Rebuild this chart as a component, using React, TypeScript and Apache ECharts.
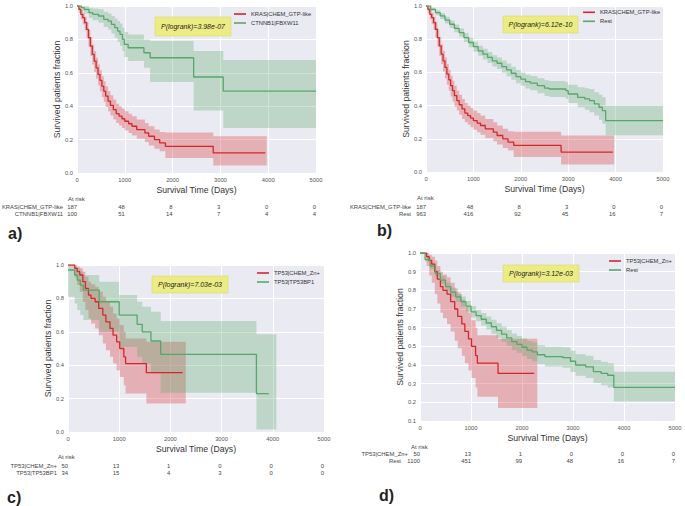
import React, { useEffect, useRef } from 'react';
import * as echarts from 'echarts';

const FONT = '"Liberation Sans", Arial, Helvetica, sans-serif';
const RED = '#d62728';
const GREEN = '#55a868';
const RED_BAND = 'rgba(214,39,40,0.3)';
const GREEN_BAND = 'rgba(85,168,104,0.3)';

// KRAS|CHEM_GTP-like (panels a, b)
const krasT = [0, 40, 80, 120, 160, 200, 240, 280, 320, 360, 400, 440, 480, 520, 560, 600, 650, 700, 760, 820, 880, 940, 1000, 1080, 1150, 1250, 1420, 1500, 1620, 1730, 1850, 2850];
const krasS = [1.0, 0.98, 0.95, 0.93, 0.9, 0.86, 0.81, 0.76, 0.71, 0.67, 0.63, 0.59, 0.555, 0.52, 0.49, 0.46, 0.43, 0.405, 0.38, 0.355, 0.34, 0.325, 0.31, 0.295, 0.28, 0.26, 0.24, 0.22, 0.2, 0.18, 0.16, 0.12];
const krasLo = [1.0, 0.96, 0.92, 0.89, 0.855, 0.81, 0.755, 0.7, 0.65, 0.605, 0.565, 0.525, 0.49, 0.455, 0.425, 0.395, 0.37, 0.345, 0.32, 0.3, 0.285, 0.27, 0.255, 0.24, 0.225, 0.205, 0.185, 0.165, 0.145, 0.13, 0.09, 0.045];
const krasHi = [1.0, 0.995, 0.975, 0.96, 0.935, 0.905, 0.86, 0.815, 0.77, 0.73, 0.69, 0.65, 0.615, 0.58, 0.55, 0.52, 0.49, 0.465, 0.44, 0.415, 0.4, 0.385, 0.37, 0.355, 0.34, 0.32, 0.3, 0.28, 0.26, 0.245, 0.243, 0.22];
const krasLineEnd = 3940;
const krasBandEnd = 3970;

// CTNNB1|FBXW11 (panel a)
const ctnT = [0, 90, 150, 250, 330, 450, 560, 650, 720, 790, 850, 900, 950, 990, 1070, 1400, 1530, 2440, 3060];
const ctnS = [1.0, 0.99, 0.98, 0.96, 0.95, 0.94, 0.92, 0.91, 0.89, 0.87, 0.85, 0.83, 0.8, 0.77, 0.75, 0.72, 0.69, 0.575, 0.49];
const ctnLo = [1.0, 0.97, 0.955, 0.93, 0.915, 0.9, 0.875, 0.86, 0.835, 0.81, 0.785, 0.76, 0.73, 0.695, 0.67, 0.63, 0.545, 0.375, 0.27];
const ctnHi = [1.0, 1.0, 1.0, 0.99, 0.985, 0.98, 0.965, 0.955, 0.94, 0.925, 0.91, 0.895, 0.87, 0.845, 0.83, 0.8, 0.79, 0.73, 0.677];
const ctnEnd = 5000;

// Rest (panel b)
const restBT = [0, 100, 200, 300, 400, 500, 600, 700, 800, 900, 1000, 1100, 1200, 1300, 1400, 1500, 1600, 1700, 1800, 1900, 2000, 2100, 2200, 2350, 2500, 2600, 2950, 3000, 3200, 3350, 3450, 3550, 3650, 3720, 3790];
const restBS = [1.0, 0.98, 0.96, 0.94, 0.915, 0.89, 0.865, 0.84, 0.81, 0.78, 0.755, 0.73, 0.71, 0.69, 0.67, 0.655, 0.635, 0.615, 0.595, 0.575, 0.56, 0.545, 0.535, 0.52, 0.505, 0.5, 0.49, 0.47, 0.45, 0.44, 0.43, 0.41, 0.39, 0.37, 0.31];
const restBLo = [1.0, 0.97, 0.945, 0.922, 0.895, 0.868, 0.842, 0.815, 0.783, 0.752, 0.725, 0.7, 0.678, 0.657, 0.636, 0.62, 0.598, 0.577, 0.556, 0.535, 0.52, 0.503, 0.492, 0.475, 0.458, 0.452, 0.44, 0.415, 0.39, 0.375, 0.36, 0.34, 0.315, 0.29, 0.222];
const restBHi = [1.0, 0.99, 0.975, 0.958, 0.935, 0.912, 0.888, 0.865, 0.837, 0.808, 0.785, 0.76, 0.742, 0.723, 0.704, 0.69, 0.672, 0.653, 0.634, 0.615, 0.6, 0.587, 0.578, 0.565, 0.552, 0.548, 0.54, 0.525, 0.51, 0.505, 0.5, 0.48, 0.465, 0.45, 0.4];
const restBEnd = 5000;

// TP53|CHEM_Zn+ (panels c, d)
const znT = [0, 130, 180, 230, 290, 340, 400, 450, 530, 600, 680, 740, 820, 880, 950, 1010, 1090, 1125, 1530];
const znS = [1.0, 0.98, 0.96, 0.94, 0.9, 0.86, 0.82, 0.8, 0.78, 0.74, 0.7, 0.66, 0.62, 0.58, 0.54, 0.5, 0.45, 0.41, 0.355];
const znLo = [1.0, 0.93, 0.88, 0.84, 0.78, 0.73, 0.68, 0.65, 0.62, 0.58, 0.53, 0.49, 0.45, 0.41, 0.37, 0.33, 0.28, 0.23, 0.17];
const znHi = [1.0, 1.0, 0.99, 0.98, 0.96, 0.93, 0.9, 0.885, 0.87, 0.84, 0.81, 0.78, 0.75, 0.71, 0.68, 0.64, 0.6, 0.56, 0.54];
const znLineEnd = 2240;
const znBandEnd = 2300;

// TP53|TP53BP1 (panel c)
const bp1T = [0, 130, 180, 240, 300, 610, 1000, 1350, 1450, 1620, 1810, 3680];
const bp1S = [0.97, 0.94, 0.91, 0.88, 0.85, 0.78, 0.7, 0.645, 0.6, 0.545, 0.465, 0.23];
const bp1Lo = [0.81, 0.77, 0.73, 0.7, 0.67, 0.6, 0.51, 0.45, 0.41, 0.35, 0.235, 0.015];
const bp1Hi = [1.0, 0.99, 0.98, 0.96, 0.94, 0.9, 0.82, 0.78, 0.75, 0.72, 0.665, 0.585];
const bp1LineEnd = 3920;
const bp1BandEnd = 4070;

// Rest (panel d)
const restDT = [0, 100, 200, 300, 400, 500, 600, 700, 800, 900, 1000, 1100, 1200, 1300, 1400, 1500, 1600, 1700, 1800, 1900, 2000, 2100, 2200, 2300, 2450, 2800, 2950, 3050, 3250, 3400, 3550, 3680, 3800];
const restDS = [1.0, 0.965, 0.93, 0.89, 0.855, 0.82, 0.79, 0.765, 0.74, 0.715, 0.685, 0.665, 0.645, 0.625, 0.605, 0.585, 0.565, 0.545, 0.525, 0.51, 0.495, 0.48, 0.47, 0.455, 0.445, 0.44, 0.42, 0.4, 0.39, 0.365, 0.355, 0.345, 0.28];
const restDLo = [1.0, 0.955, 0.915, 0.873, 0.835, 0.798, 0.765, 0.739, 0.713, 0.687, 0.655, 0.634, 0.612, 0.59, 0.568, 0.546, 0.524, 0.503, 0.481, 0.465, 0.448, 0.432, 0.42, 0.404, 0.392, 0.385, 0.363, 0.342, 0.33, 0.303, 0.292, 0.28, 0.204];
const restDHi = [1.0, 0.975, 0.945, 0.907, 0.875, 0.842, 0.815, 0.791, 0.767, 0.743, 0.715, 0.696, 0.678, 0.66, 0.642, 0.624, 0.606, 0.587, 0.569, 0.555, 0.542, 0.528, 0.52, 0.506, 0.498, 0.495, 0.477, 0.458, 0.45, 0.427, 0.418, 0.41, 0.364];
const restDEnd = 5000;

// At-risk tables
const riskTicks = [0, 1000, 2000, 3000, 4000, 5000];
const riskA1 = [187, 48, 8, 3, 0, 0];
const riskA2 = [100, 51, 14, 7, 4, 4];
const riskB1 = [187, 48, 8, 3, 0, 0];
const riskB2 = [963, 416, 92, 45, 16, 7];
const riskC1 = [50, 13, 1, 0, 0, 0];
const riskC2 = [34, 15, 4, 3, 0, 0];
const riskD1 = [50, 13, 1, 0, 0, 0];
const riskD2 = [1100, 451, 99, 48, 16, 7];

const pValues = ['P(logrank)=3.98e-07', 'P(logrank)=6.12e-10', 'P(logrank)=7.03e-03', 'P(logrank)=3.12e-03'];
const panelLabels = ['a)', 'b)', 'c)', 'd)'];
const groupNames = [
  ['KRAS|CHEM_GTP-like', 'CTNNB1|FBXW11'],
  ['KRAS|CHEM_GTP-like', 'Rest'],
  ['TP53|CHEM_Zn+', 'TP53|TP53BP1'],
  ['TP53|CHEM_Zn+', 'Rest'],
];
const riskRows = [[riskA1, riskA2], [riskB1, riskB2], [riskC1, riskC2], [riskD1, riskD2]];

// Layout (pixels)
const grids = [
  { left: 77, top: 6, width: 239, height: 167 },
  { left: 426, top: 6, width: 237, height: 166 },
  { left: 68, top: 265, width: 256, height: 167 },
  { left: 420, top: 253, width: 255, height: 168 },
];
const yMins = [0, 0, 0, 0.1];
const yIntervals = [0.2, 0.2, 0.2, 0.1];
const riskOffsets = [30.5, 31.5, 30.5, 29.5];
const legendPos = [
  { left: 234, top: 9.5 },
  { left: 583, top: 7.8 },
  { left: 257, top: 268.5 },
  { left: 609, top: 256.5 },
];
const pBoxes = [
  { x: 155, y: 17, w: 76, h: 19 },
  { x: 503, y: 16, w: 75, h: 17 },
  { x: 152, y: 276, w: 76, h: 17 },
  { x: 503, y: 265, w: 76, h: 17 },
];
const labelPos = [
  { x: 8, y: 233 },
  { x: 377, y: 230 },
  { x: 7, y: 497 },
  { x: 379, y: 495 },
];
const riskLabelPos = [
  { atX: 68, atY: 199, row1X: 63, row2X: 63, r1: 207, r2: 214 },
  { atX: 417, atY: 198, row1X: 411, row2X: 411, r1: 207, r2: 214 },
  { atX: 58, atY: 457, row1X: 57, row2X: 57, r1: 466, r2: 473 },
  { atX: 411, atY: 447, row1X: 408, row2X: 401, r1: 454, r2: 461 },
];

function lineSeries(gi: number, name: string, t: number[], s: number[], end: number, color: string) {
  const data = t.map((x, i) => [x, s[i]]);
  data.push([end, s[s.length - 1]]);
  return {
    type: 'line',
    name,
    xAxisIndex: gi,
    yAxisIndex: gi,
    step: 'end',
    showSymbol: false,
    symbol: 'none',
    data,
    z: 3,
    lineStyle: { color, width: 1.3 },
    itemStyle: { color },
    silent: true,
  };
}

function bandSeries(gi: number, t: number[], lo: number[], hi: number[], end: number, fill: string) {
  return {
    type: 'custom',
    xAxisIndex: gi,
    yAxisIndex: gi,
    silent: true,
    z: 2,
    data: t.map((x, i) => [x, lo[i], hi[i]]),
    encode: { x: 0, y: [1, 2] },
    renderItem: (params: any, api: any) => {
      if (params.dataIndex !== 0) return null;
      const pts: number[][] = [];
      const n = t.length;
      for (let i = 0; i < n; i++) {
        const x1 = i + 1 < n ? t[i + 1] : end;
        pts.push(api.coord([t[i], hi[i]]), api.coord([x1, hi[i]]));
      }
      for (let i = n - 1; i >= 0; i--) {
        const x1 = i + 1 < n ? t[i + 1] : end;
        pts.push(api.coord([x1, lo[i]]), api.coord([t[i], lo[i]]));
      }
      return { type: 'polygon', shape: { points: pts }, style: { fill } };
    },
  };
}

function buildOption() {
  const grid = grids.map((g) => ({ ...g, show: true, backgroundColor: '#EAEAF2', borderWidth: 0, containLabel: false }));
  const xAxis: any[] = [];
  const yAxis: any[] = [];
  grids.forEach((_, gi) => {
    xAxis.push({
      gridIndex: gi,
      type: 'value',
      min: 0,
      max: 5000,
      interval: 1000,
      name: 'Survival Time (Days)',
      nameLocation: 'middle',
      nameGap: 12,
      nameTextStyle: { fontSize: 8.7, color: '#333', fontFamily: FONT },
      axisLine: { show: false },
      axisTick: { show: false },
      axisLabel: {
        fontSize: 5.8,
        color: '#555',
        margin: 4,
        fontFamily: FONT,
        showMinLabel: true,
        showMaxLabel: true,
        formatter: (v: number) => String(Math.round(v)),
      },
      splitLine: { show: true, lineStyle: { color: '#ffffff', width: 1 } },
    });
    yAxis.push({
      gridIndex: gi,
      type: 'value',
      min: yMins[gi],
      max: 1.0,
      interval: yIntervals[gi],
      name: 'Survived patients fraction',
      nameLocation: 'middle',
      nameGap: 15,
      nameTextStyle: { fontSize: 8.7, color: '#333', fontFamily: FONT },
      axisLine: { show: false },
      axisTick: { show: false },
      axisLabel: { fontSize: 5.8, color: '#555', margin: 4, fontFamily: FONT, formatter: (v: number) => v.toFixed(1) },
      splitLine: { show: true, lineStyle: { color: '#ffffff', width: 1 } },
    });
  });
  grids.forEach((_, gi) => {
    const rows = riskRows[gi];
    xAxis.push({
      gridIndex: gi,
      type: 'value',
      position: 'bottom',
      offset: riskOffsets[gi],
      min: 0,
      max: 5000,
      interval: 1000,
      axisLine: { show: false },
      axisTick: { show: false },
      splitLine: { show: false },
      axisLabel: {
        show: true,
        margin: 0,
        align: 'right',
        fontSize: 5.9,
        lineHeight: 7,
        color: '#444',
        fontFamily: FONT,
        showMinLabel: true,
        showMaxLabel: true,
        formatter: (v: number) => {
          const k = riskTicks.indexOf(Math.round(v));
          return k < 0 ? '' : `${rows[0][k]}\n${rows[1][k]}`;
        },
      },
    });
  });

  const series: any[] = [
    bandSeries(0, krasT, krasLo, krasHi, krasBandEnd, RED_BAND),
    bandSeries(0, ctnT, ctnLo, ctnHi, ctnEnd, GREEN_BAND),
    lineSeries(0, groupNames[0][0], krasT, krasS, krasLineEnd, RED),
    lineSeries(0, groupNames[0][1], ctnT, ctnS, ctnEnd, GREEN),

    bandSeries(1, krasT, krasLo, krasHi, krasBandEnd, RED_BAND),
    bandSeries(1, restBT, restBLo, restBHi, restBEnd, GREEN_BAND),
    lineSeries(1, groupNames[1][0], krasT, krasS, krasLineEnd, RED),
    lineSeries(1, groupNames[1][1], restBT, restBS, restBEnd, GREEN),

    bandSeries(2, znT, znLo, znHi, znBandEnd, RED_BAND),
    bandSeries(2, bp1T, bp1Lo, bp1Hi, bp1BandEnd, GREEN_BAND),
    lineSeries(2, groupNames[2][0], znT, znS, znLineEnd, RED),
    lineSeries(2, groupNames[2][1], bp1T, bp1S, bp1LineEnd, GREEN),

    bandSeries(3, znT, znLo, znHi, znBandEnd, RED_BAND),
    bandSeries(3, restDT, restDLo, restDHi, restDEnd, GREEN_BAND),
    lineSeries(3, groupNames[3][0], znT, znS, znLineEnd, RED),
    lineSeries(3, groupNames[3][1], restDT, restDS, restDEnd, GREEN),
  ];

  const legend = grids.map((_, gi) => ({
    data: groupNames[gi],
    left: legendPos[gi].left,
    top: legendPos[gi].top,
    orient: 'vertical',
    icon: 'rect',
    itemWidth: 12,
    itemHeight: 1.6,
    itemGap: 0,
    padding: 0,
    selectedMode: false,
    textStyle: { fontSize: 5.8, color: '#333', lineHeight: 9, fontFamily: FONT },
  }));

  const graphic: any[] = [];
  grids.forEach((_, gi) => {
    const b = pBoxes[gi];
    graphic.push({
      type: 'rect',
      shape: { x: b.x, y: b.y, width: b.w, height: b.h },
      style: { fill: '#ecec84', stroke: '#dada6e', lineWidth: 0.6 },
      z: 10,
    });
    graphic.push({
      type: 'text',
      x: b.x + b.w / 2,
      y: b.y + b.h / 2,
      style: { text: pValues[gi], font: `italic 7px ${FONT}`, fill: '#222', textAlign: 'center', textVerticalAlign: 'middle' },
      z: 11,
    });
    const lp = labelPos[gi];
    graphic.push({
      type: 'text',
      x: lp.x,
      y: lp.y,
      style: { text: panelLabels[gi], font: `bold 16px ${FONT}`, fill: '#222', textAlign: 'left', textVerticalAlign: 'middle' },
    });
    const r = riskLabelPos[gi];
    graphic.push({
      type: 'text',
      x: r.atX,
      y: r.atY,
      style: { text: 'At risk', font: `6px ${FONT}`, fill: '#444', textAlign: 'left', textVerticalAlign: 'middle' },
    });
    graphic.push({
      type: 'text',
      x: r.row1X,
      y: r.r1,
      style: { text: groupNames[gi][0], font: `5.9px ${FONT}`, fill: '#444', textAlign: 'right', textVerticalAlign: 'middle' },
    });
    graphic.push({
      type: 'text',
      x: r.row2X,
      y: r.r2,
      style: { text: groupNames[gi][1], font: `5.9px ${FONT}`, fill: '#444', textAlign: 'right', textVerticalAlign: 'middle' },
    });
  });

  return {
    animation: false,
    backgroundColor: '#ffffff',
    grid,
    xAxis,
    yAxis,
    legend,
    series,
    graphic,
  };
}

export default function App() {
  const ref = useRef<HTMLDivElement>(null);
  useEffect(() => {
    document.body.style.margin = '0';
    const chart = echarts.init(ref.current as HTMLDivElement, null, { renderer: 'svg' });
    chart.setOption(buildOption() as any);
    return () => chart.dispose();
  }, []);
  return <div ref={ref} style={{ width: 685, height: 506 }} />;
}
